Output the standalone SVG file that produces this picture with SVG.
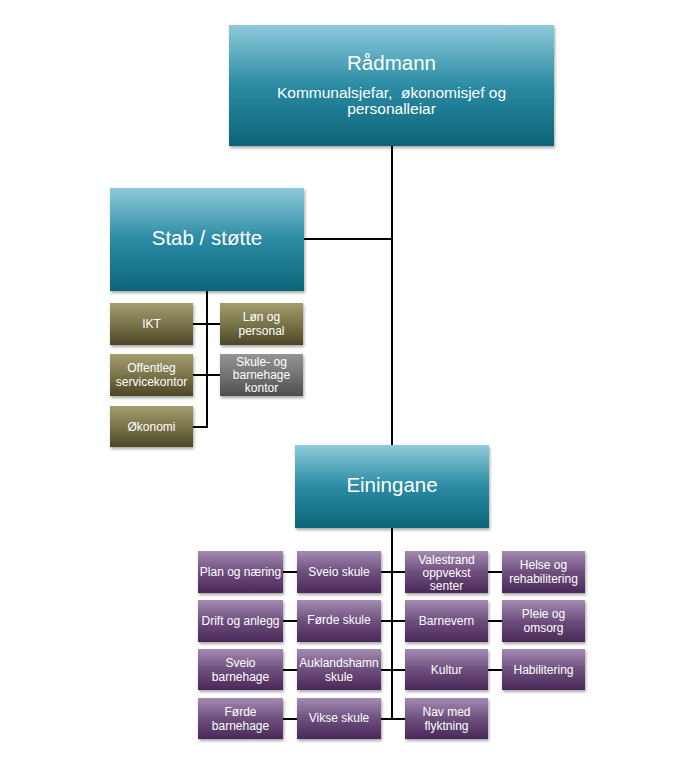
<svg xmlns="http://www.w3.org/2000/svg" width="679" height="779" viewBox="0 0 679 779">
  <defs>
    <linearGradient id="gTeal" x1="0" y1="0" x2="0" y2="1">
      <stop offset="0" stop-color="#8dcadb"/>
      <stop offset="0.5" stop-color="#2b8ba3"/>
      <stop offset="1" stop-color="#0c6478"/>
    </linearGradient>
    <linearGradient id="gOlive" x1="0" y1="0" x2="0" y2="1">
      <stop offset="0" stop-color="#a39d70"/>
      <stop offset="0.5" stop-color="#7a7449"/>
      <stop offset="1" stop-color="#4c4627"/>
    </linearGradient>
    <linearGradient id="gGray" x1="0" y1="0" x2="0" y2="1">
      <stop offset="0" stop-color="#959595"/>
      <stop offset="0.5" stop-color="#737373"/>
      <stop offset="1" stop-color="#4e4e4e"/>
    </linearGradient>
    <linearGradient id="gPurple" x1="0" y1="0" x2="0" y2="1">
      <stop offset="0" stop-color="#a48bb2"/>
      <stop offset="0.5" stop-color="#6e4f7e"/>
      <stop offset="1" stop-color="#4a2858"/>
    </linearGradient>
    <filter id="sh" x="-10%" y="-10%" width="125%" height="130%">
      <feDropShadow dx="1" dy="2" stdDeviation="1.5" flood-color="#000" flood-opacity="0.35"/>
    </filter>
  </defs>
  <style>
    text { font-family: "Liberation Sans", Arial, sans-serif; fill: #ffffff; text-anchor: middle; }
    .big { font-size: 20.5px; }
    .sub { font-size: 15.5px; }
    .sm { font-size: 12px; }
    .teal { fill: url(#gTeal); filter: url(#sh); }
    .olive { fill: url(#gOlive); filter: url(#sh); }
    .gray { fill: url(#gGray); filter: url(#sh); }
    .purple { fill: url(#gPurple); filter: url(#sh); }
    .conn { stroke: #000; stroke-width: 2; fill: none; }
  </style>

  <g id="connectors" class="conn">
    <line x1="392" y1="146" x2="392" y2="445"/>
    <line x1="304" y1="239" x2="393" y2="239"/>
    <line x1="207" y1="291" x2="207" y2="428"/>
    <line x1="193" y1="324" x2="220" y2="324"/>
    <line x1="193" y1="375" x2="220" y2="375"/>
    <line x1="193" y1="427" x2="208" y2="427"/>
    <line x1="392" y1="528" x2="392" y2="720"/>
    <line x1="381" y1="572" x2="405" y2="572"/>
    <line x1="381" y1="621" x2="405" y2="621"/>
    <line x1="381" y1="670" x2="405" y2="670"/>
    <line x1="381" y1="719" x2="405" y2="719"/>
    <line x1="283" y1="572" x2="297" y2="572"/>
    <line x1="283" y1="621" x2="297" y2="621"/>
    <line x1="283" y1="670" x2="297" y2="670"/>
    <line x1="283" y1="719" x2="297" y2="719"/>
    <line x1="488" y1="572" x2="502" y2="572"/>
    <line x1="488" y1="621" x2="502" y2="621"/>
    <line x1="488" y1="670" x2="502" y2="670"/>
  </g>

  <g id="radmann">
    <rect class="teal" x="229" y="25" width="325" height="121"/>
    <text class="big" x="391.5" y="70">Rådmann</text>
    <text class="sub" x="391.5" y="98" xml:space="preserve">Kommunalsjefar,  økonomisjef og</text>
    <text class="sub" x="391.5" y="114">personalleiar</text>
  </g>

  <g id="stab">
    <rect class="teal" x="110" y="188" width="194" height="103"/>
    <text class="big" x="207" y="245">Stab / støtte</text>
  </g>

  <g id="ikt">
    <rect class="olive" x="110" y="303" width="83" height="42"/>
    <text class="sm" x="151.5" y="328">IKT</text>
  </g>
  <g id="lon">
    <rect class="olive" x="220" y="303" width="83" height="42"/>
    <text class="sm" x="261.5" y="321">Løn og</text>
    <text class="sm" x="261.5" y="335">personal</text>
  </g>
  <g id="offentleg">
    <rect class="olive" x="110" y="354" width="83" height="42"/>
    <text class="sm" x="151.5" y="372">Offentleg</text>
    <text class="sm" x="151.5" y="386">servicekontor</text>
  </g>
  <g id="skulekontor">
    <rect class="gray" x="220" y="354" width="83" height="42"/>
    <text class="sm" x="261.5" y="366">Skule- og</text>
    <text class="sm" x="261.5" y="379">barnehage</text>
    <text class="sm" x="261.5" y="392">kontor</text>
  </g>
  <g id="okonomi">
    <rect class="olive" x="110" y="406" width="83" height="41"/>
    <text class="sm" x="151.5" y="431">Økonomi</text>
  </g>

  <g id="einingane">
    <rect class="teal" x="295" y="445" width="194" height="83"/>
    <text class="big" x="392" y="492">Einingane</text>
  </g>

  <g id="plan">
    <rect class="purple" x="198" y="551" width="85" height="42"/>
    <text class="sm" x="240.5" y="576">Plan og næring</text>
  </g>
  <g id="sveioskule">
    <rect class="purple" x="297" y="551" width="84" height="42"/>
    <text class="sm" x="339" y="576">Sveio skule</text>
  </g>
  <g id="valestrand">
    <rect class="purple" x="405" y="551" width="83" height="42"/>
    <text class="sm" x="446.5" y="564">Valestrand</text>
    <text class="sm" x="446.5" y="577">oppvekst</text>
    <text class="sm" x="446.5" y="590">senter</text>
  </g>
  <g id="helse">
    <rect class="purple" x="502" y="551" width="83" height="42"/>
    <text class="sm" x="543.5" y="569">Helse og</text>
    <text class="sm" x="543.5" y="583">rehabilitering</text>
  </g>

  <g id="drift">
    <rect class="purple" x="198" y="600" width="85" height="42"/>
    <text class="sm" x="240.5" y="625">Drift og anlegg</text>
  </g>
  <g id="fordeskule">
    <rect class="purple" x="297" y="600" width="84" height="42"/>
    <text class="sm" x="339" y="624">Førde skule</text>
  </g>
  <g id="barnevern">
    <rect class="purple" x="405" y="600" width="83" height="42"/>
    <text class="sm" x="446.5" y="625">Barnevern</text>
  </g>
  <g id="pleie">
    <rect class="purple" x="502" y="600" width="83" height="42"/>
    <text class="sm" x="543.5" y="618">Pleie og</text>
    <text class="sm" x="543.5" y="632">omsorg</text>
  </g>

  <g id="sveiobarnehage">
    <rect class="purple" x="198" y="649" width="85" height="41"/>
    <text class="sm" x="240.5" y="667">Sveio</text>
    <text class="sm" x="240.5" y="681">barnehage</text>
  </g>
  <g id="auklandshamn">
    <rect class="purple" x="297" y="649" width="84" height="41"/>
    <text class="sm" x="339" y="667">Auklandshamn</text>
    <text class="sm" x="339" y="681">skule</text>
  </g>
  <g id="kultur">
    <rect class="purple" x="405" y="649" width="83" height="41"/>
    <text class="sm" x="446.5" y="674">Kultur</text>
  </g>
  <g id="habilitering">
    <rect class="purple" x="502" y="649" width="83" height="41"/>
    <text class="sm" x="543.5" y="674">Habilitering</text>
  </g>

  <g id="fordebarnehage">
    <rect class="purple" x="198" y="698" width="85" height="41"/>
    <text class="sm" x="240.5" y="716">Førde</text>
    <text class="sm" x="240.5" y="730">barnehage</text>
  </g>
  <g id="vikse">
    <rect class="purple" x="297" y="698" width="84" height="41"/>
    <text class="sm" x="339" y="722">Vikse skule</text>
  </g>
  <g id="nav">
    <rect class="purple" x="405" y="698" width="83" height="41"/>
    <text class="sm" x="446.5" y="716">Nav med</text>
    <text class="sm" x="446.5" y="730">flyktning</text>
  </g>
</svg>
